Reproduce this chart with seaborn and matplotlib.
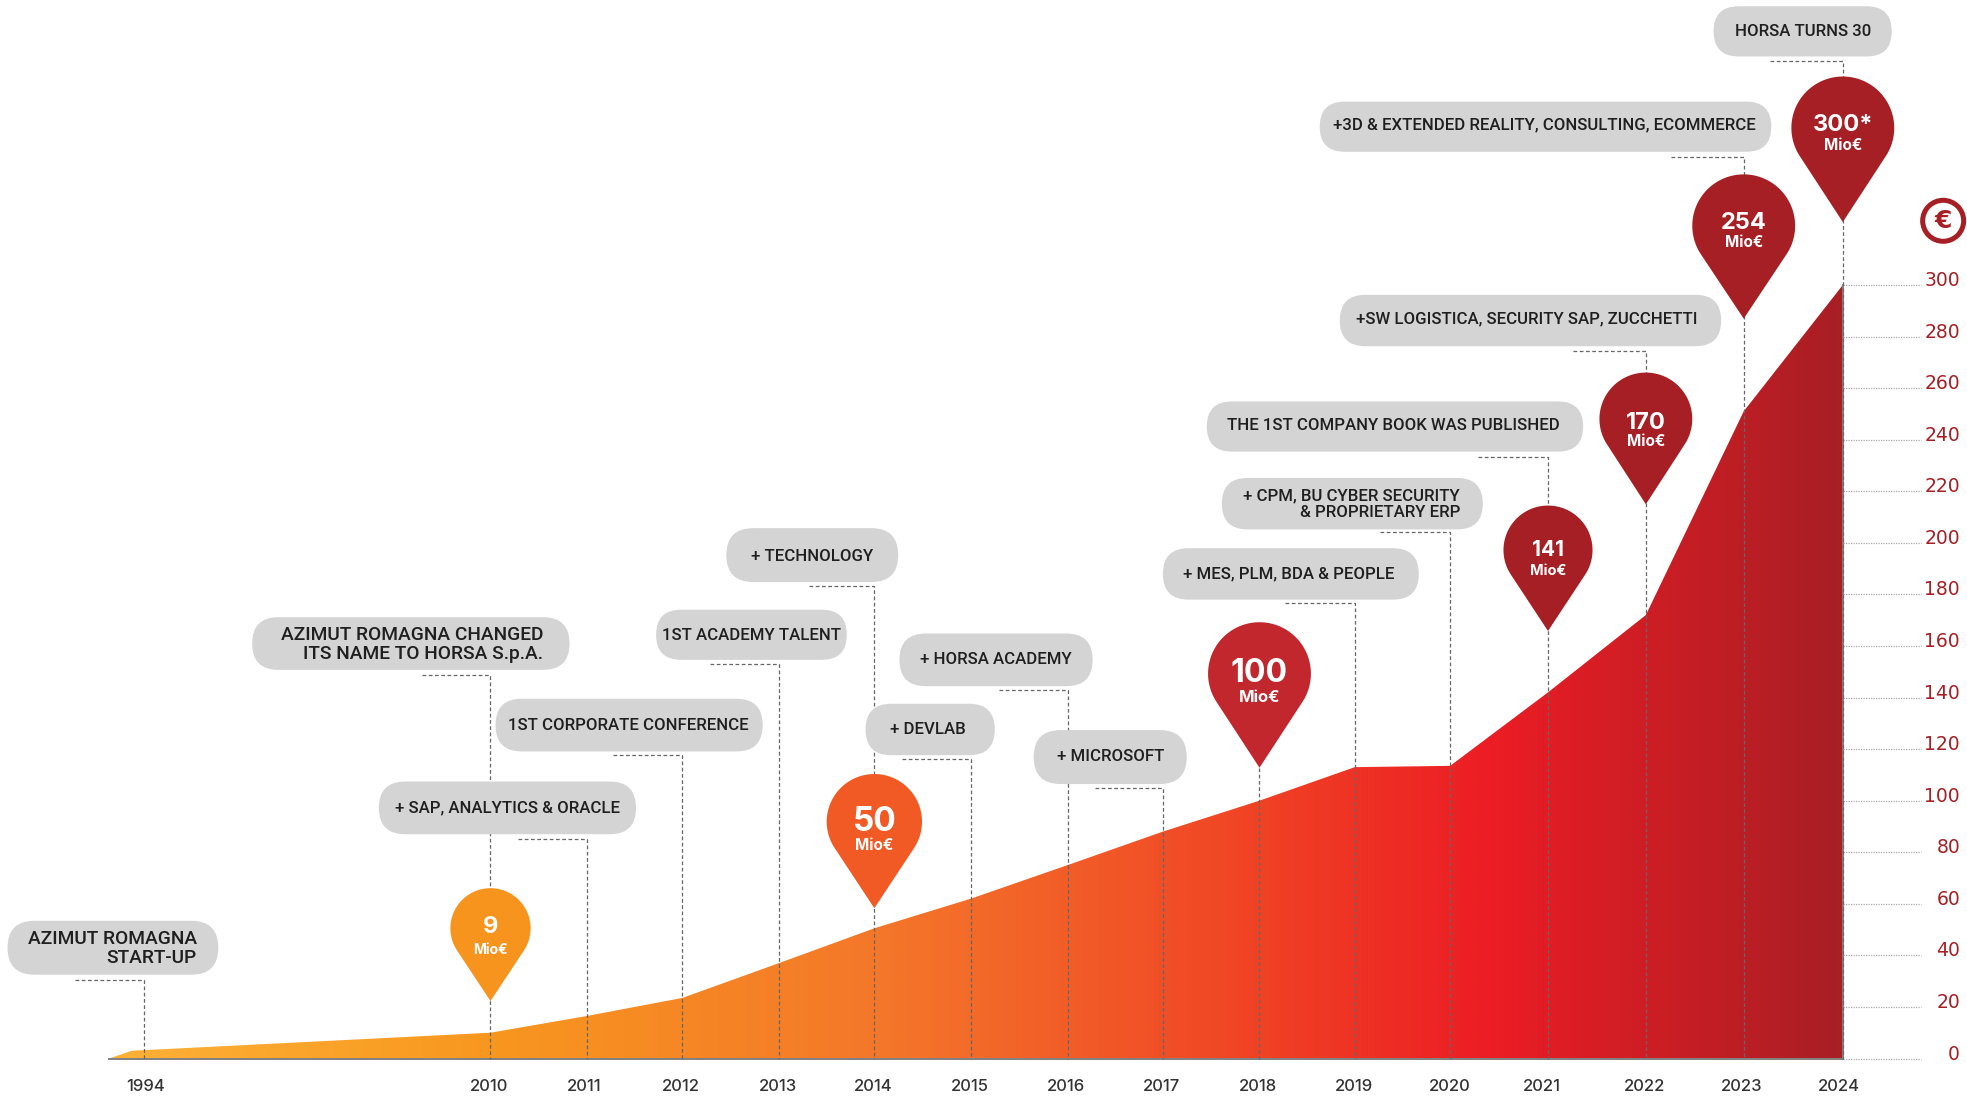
import numpy as np
import pandas as pd
import matplotlib
matplotlib.use("Agg")
import matplotlib.pyplot as plt
import seaborn as sns
from matplotlib.colors import LinearSegmentedColormap
from matplotlib.patches import FancyBboxPatch, PathPatch, Circle
from matplotlib.path import Path
from matplotlib.transforms import ScaledTranslation

# chart values
years = ["1994", "2010", "2011", "2012", "2013", "2014", "2015", "2016",
         "2017", "2018", "2019", "2020", "2021", "2022", "2023", "2024"]
revenue = [3, 10, 16.5, 23.5, 37, 50.5, 62, 75, 88, 100, 113, 113.5, 142, 172, 251, 300]
y_ticks = list(range(0, 301, 20))
pin_labels = ["9", "50", "100", "141", "170", "254", "300*"]
pin_years = ["2010", "2014", "2018", "2021", "2022", "2023", "2024"]
pin_colors = ["#f7941e", "#f15a24", "#c1272d", "#a61f24", "#a61f24", "#a61f24", "#a61f24"]

# layout read in the 1568 wide view, scaled up with S
S = 1967 / 1568
W, H = 1967, 1096
BASE_Y = 1058.5
TOP_Y = 285.0
X_START = 87 * S
X_KNEE = 105 * S
X_END = 1469 * S
year_x = [115, 391, 468, 544, 621, 697, 774, 851, 927, 1004, 1080, 1156, 1234, 1312, 1390, 1469]
label_shift = [1, -1, -2, -1, -1, -1, -1, -1, -1, -1, -1, 0, -5, -1, -2, -3]
X = dict(zip(years, [v * S for v in year_x]))

# x0, x1, y0, y1, text lines, text x, text y of each line, align, leader start x, leader y, year
bubbles = [
    (6, 174, 734, 777, ["AZIMUT ROMAGNA", "START-UP"], 157, [748, 763], "right", 60, 781, "1994"),
    (201, 454, 492, 534, ["AZIMUT ROMAGNA CHANGED", "ITS NAME TO HORSA S.p.A."], 433, [506, 521], "right", 336, 538, "2010"),
    (302, 507, 623, 665, ["+ SAP, ANALYTICS & ORACLE"], 404.5, [644], "center", 413, 669, "2011"),
    (395, 608, 557, 599, ["1ST CORPORATE CONFERENCE"], 501, [578], "center", 489, 602, "2012"),
    (523, 675, 486, 526, ["1ST ACADEMY TALENT"], 599, [506], "center", 566, 529, "2013"),
    (579, 716, 421, 464, ["+ TECHNOLOGY"], 647, [443], "center", 645, 467, "2014"),
    (690, 793, 561, 602, ["+ DEVLAB"], 740, [581], "center", 719, 605, "2015"),
    (717, 871, 505, 547, ["+ HORSA ACADEMY"], 794, [525], "center", 796, 550, "2016"),
    (824, 946, 582, 625, ["+ MICROSOFT"], 885, [603], "center", 873, 628, "2017"),
    (927, 1131, 437, 478, ["+ MES, PLM, BDA & PEOPLE"], 1027, [457], "center", 1024, 481, "2019"),
    (974, 1182, 381, 422, ["+ CPM, BU CYBER SECURITY", "& PROPRIETARY ERP"], 1164, [395, 408], "right", 1100, 424, "2020"),
    (962, 1262, 320, 360, ["THE 1ST COMPANY BOOK WAS PUBLISHED"], 1111, [339], "center", 1178, 364, "2021"),
    (1068, 1372, 235, 276, ["+SW LOGISTICA, SECURITY SAP, ZUCCHETTI"], 1217, [254], "center", 1254, 280, "2022"),
    (1052, 1412, 81, 121, ["+3D & EXTENDED REALITY, CONSULTING, ECOMMERCE"], 1231, [99], "center", 1332, 125, "2023"),
    (1366, 1508, 5, 45, ["HORSA TURNS 30"], 1437, [25], "center", 1411, 49, "2024"),
]

# top, tip, half width, value y, unit y, value size, unit size
pins = [
    (708, 798, 32, 739, 757, 17, 10),
    (617, 724, 38, 655, 674, 24, 11),
    (496, 612, 41, 537, 556, 23, 12),
    (403, 503, 35.5, 438.5, 455, 15, 10.5),
    (297, 402, 37, 337, 352, 17, 11),
    (139, 254, 41, 178, 193, 17, 11),
    (61, 177, 41, 100, 116, 17, 11),
]

sns.set_theme(style="white")
plt.rcParams["font.family"] = ["Roboto", "DejaVu Sans"]

fig = plt.figure(figsize=(W / 100, H / 100), dpi=100, facecolor="white")
ax = fig.add_axes([X_START / W, 1 - BASE_Y / H, (X_END - X_START) / W, (BASE_Y - TOP_Y) / H])

# area from the series, with a tail down to zero before 1994
xs = [X_START, X_KNEE] + [X[y] for y in years[1:]]
ys = [0, revenue[0]] + revenue[1:]
df = pd.DataFrame({"x": xs, "revenue": ys})
sns.lineplot(data=df, x="x", y="revenue", ax=ax, linewidth=0, estimator=None)

grad = LinearSegmentedColormap.from_list("horsa", [
    (0.0, "#fdb137"), (0.22, "#f8971f"), (0.45, "#f4762a"), (0.66, "#f04325"),
    (0.80, "#ec1c24"), (1.0, "#a81f24")])
xlim = (X_START, X_END)
ylim = (0, 300)
area = ax.fill_between(df["x"], df["revenue"], 0, facecolor="none", edgecolor="none")
im = ax.imshow(np.linspace(0, 1, 512).reshape(1, -1), cmap=grad, aspect="auto",
               extent=(xlim[0], xlim[1], ylim[0], ylim[1]), interpolation="bilinear")
im.set_clip_path(area.get_paths()[0], transform=ax.transData)
ax.set_xlim(xlim)
ax.set_ylim(ylim)
ax.set_xlabel("")
ax.set_ylabel("")

for side in ["top", "left"]:
    ax.spines[side].set_visible(False)
for side in ["bottom", "right"]:
    ax.spines[side].set_color("#808080")
    ax.spines[side].set_linewidth(1.4)

# ticks
ax.set_xticks([X[y] for y in years])
ax.set_xticklabels(years, fontsize=12, color="#333333", fontweight="medium", family=["Inter", "DejaVu Sans"])
ax.tick_params(axis="x", length=0, pad=15)
for lab, dx in zip(ax.get_xticklabels(), label_shift):
    lab.set_transform(lab.get_transform() + ScaledTranslation(dx * S / 100, 0, fig.dpi_scale_trans))
ax.yaxis.tick_right()
ax.set_yticks(y_ticks)
ax.set_yticklabels([str(v) for v in y_ticks], fontsize=13.5, color="#a61f24", ha="right", family=["DejaVu Sans"])
ax.tick_params(axis="y", length=0, pad=(1960 - X_END) * 0.72)
up = ScaledTranslation(0, 6.5 / 100, fig.dpi_scale_trans)
for lab in ax.get_yticklabels():
    lab.set_transform(lab.get_transform() + up)
ax.hlines(y_ticks, 1.0, 1 + (1921 - X_END) / (X_END - X_START), transform=ax.get_yaxis_transform(),
          color="#aaaaaa", linewidth=0.9, linestyle=(0, (1, 1)), clip_on=False)

# overlay in pixels for callouts
ov = fig.add_axes([0, 0, 1, 1], facecolor="none")
ov.set_xlim(0, W)
ov.set_ylim(H, 0)
ov.axis("off")


def pin_path(cx, top, tip, hw):
    # circle with straight sides running to the tip
    cy = top + hw
    a = np.arcsin(hw / (tip - cy))
    theta = np.linspace(np.pi + a, -a, 80)
    px = cx + hw * np.cos(theta)
    py = cy - hw * np.sin(theta)
    verts = [(cx, tip)] + list(zip(px, py)) + [(cx, tip)]
    return Path(verts, closed=True)


for x0, x1, y0, y1, lines, tx, tys, align, lx, ly, yr in bubbles:
    xa, xb, ya, yb = x0 * S, x1 * S, y0 * S, y1 * S
    h = yb - ya
    ov.add_patch(FancyBboxPatch((xa, ya), xb - xa, h, boxstyle=f"round,pad=0,rounding_size={h / 2}",
                                facecolor="#d4d4d4", edgecolor="none", zorder=3))
    big = len(lines) == 2 and y1 - y0 > 41
    for line, ty in zip(lines, tys):
        ov.text(tx * S, ty * S + 0.5, line, ha=align, va="center", color="#1f1f1f", zorder=4,
                fontsize=13.8 if big else 12.1, fontweight="medium")
    xe = X[yr]
    ov.plot([lx * S, xe, xe], [ly * S, ly * S, BASE_Y], color="#666666", linewidth=0.9,
            linestyle=(0, (3, 2)), zorder=2)

# 2018 has a pin but no bubble
ov.plot([X["2018"]] * 2, [612 * S, BASE_Y], color="#666666", linewidth=0.9,
        linestyle=(0, (3, 2)), zorder=2)

for yr, lab, col, (top, tip, hw, vy, uy, vs, us) in zip(pin_years, pin_labels, pin_colors, pins):
    cx = X[yr]
    ov.add_patch(PathPatch(pin_path(cx, top * S, tip * S, hw * S), facecolor=col, edgecolor="none", zorder=5))
    ov.text(cx, vy * S, lab, ha="center", va="center", color="white", fontsize=vs, fontweight="bold",
            family=["Inter", "DejaVu Sans"], zorder=6)
    ov.text(cx, uy * S, "Mio€", ha="center", va="center", color="white", fontsize=us, fontweight="bold",
            family=["Inter", "DejaVu Sans"], zorder=6)

# euro badge
ov.add_patch(Circle((1549 * S, 176 * S), 20.5, facecolor="white", edgecolor="#a61f24", linewidth=3.6, zorder=5))
ov.text(1549 * S, 176 * S, "€", ha="center", va="center", color="#a61f24", fontsize=18, fontweight="bold",
        family=["DejaVu Sans"], zorder=6)

fig.savefig("out.png", dpi=100)
